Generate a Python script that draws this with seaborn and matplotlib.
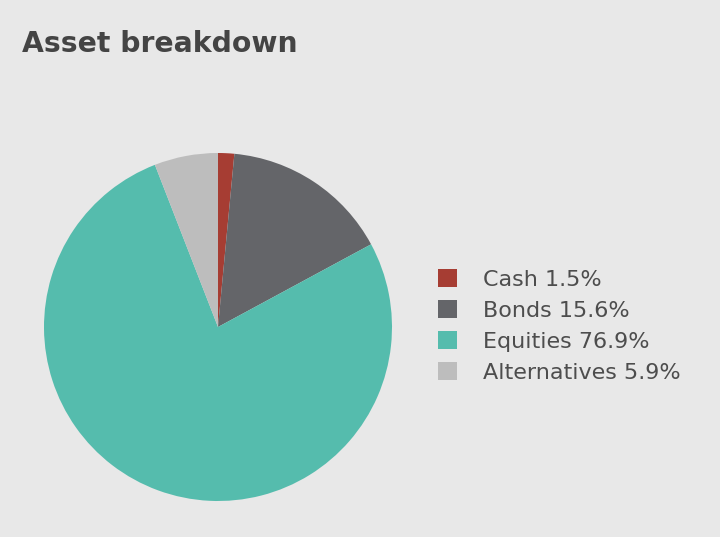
import matplotlib
matplotlib.use("Agg")
import matplotlib.pyplot as plt
import seaborn as sns

# data
labels = ["Cash", "Bonds", "Equities", "Alternatives"]
shares = [1.5, 15.6, 76.9, 5.9]
colors = ["#a63d33", "#646569", "#55bcad", "#bdbdbd"]

sns.set_style("white")
plt.rcParams["font.family"] = ["DejaVu Sans"]

bg = "#e8e8e8"
fig = plt.figure(figsize=(7.2, 5.37), dpi=100, facecolor=bg)

# pie axes: centre ~ (218, 327) px, radius ~174 px
ax = fig.add_axes([44 / 720, 36 / 537, 348 / 720, 348 / 537])
ax.set_facecolor(bg)

wedges, _ = ax.pie(
    shares,
    colors=colors,
    startangle=90,
    counterclock=False,
    radius=1.0,
    wedgeprops={"linewidth": 0},
)
ax.set_xlim(-1, 1)
ax.set_ylim(-1, 1)
ax.set_aspect("equal")
ax.axis("off")

legend_labels = [f"{l} {s}%" for l, s in zip(labels, shares)]
leg = fig.legend(
    wedges,
    legend_labels,
    loc="upper left",
    bbox_to_anchor=(438 / 720, 1 - 269 / 537),
    frameon=False,
    fontsize=16,
    handlelength=0.86,
    handleheight=0.86,
    handletextpad=1.17,
    labelspacing=0.47,
    borderpad=0,
    borderaxespad=0,
)
for t in leg.get_texts():
    t.set_color("#4d4d4d")

fig.text(22 / 720, 1 - 52 / 537, "Asset breakdown", fontsize=20.3,
         fontweight="bold", color="#444444", va="baseline", ha="left")

fig.savefig("out.png", dpi=100, facecolor=bg)
